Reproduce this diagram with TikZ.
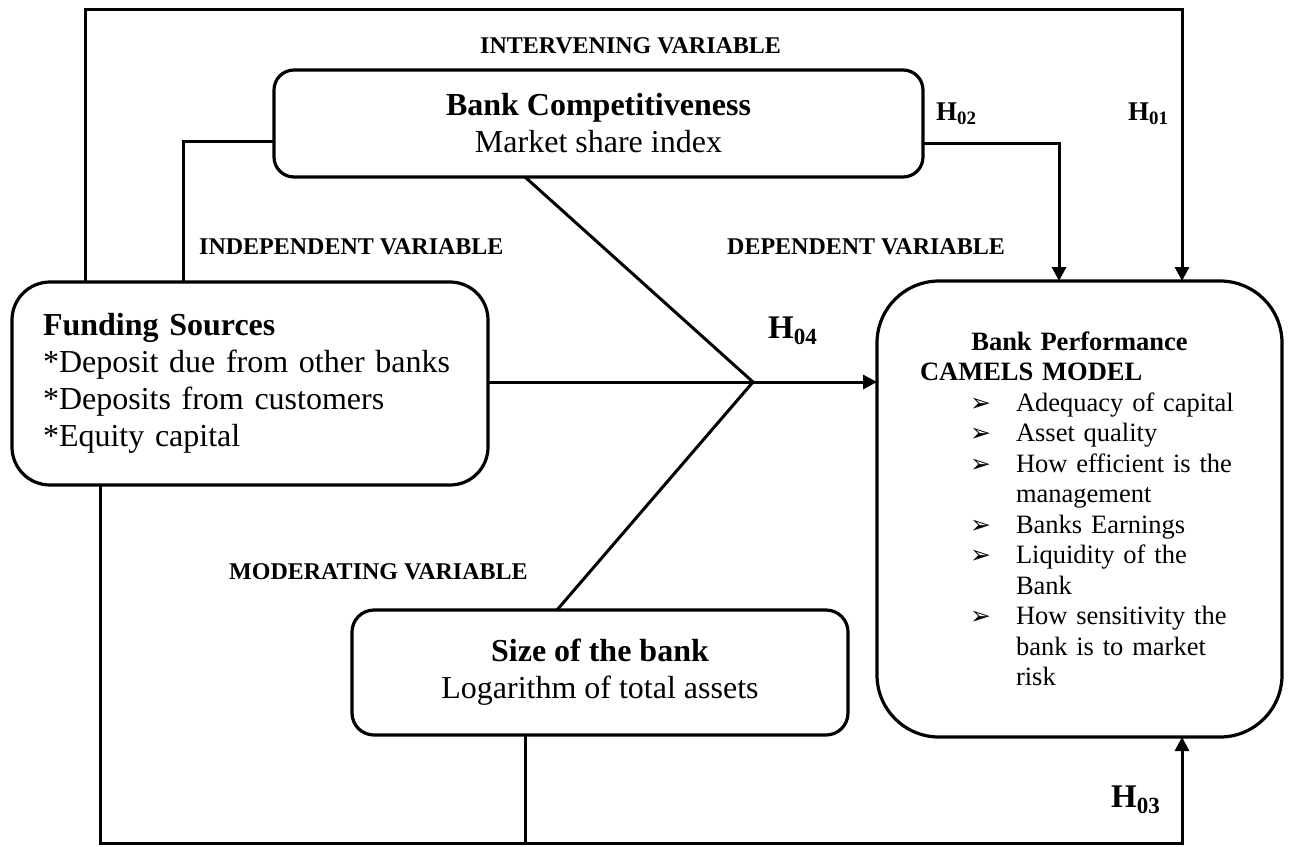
\documentclass[tikz,border=0pt]{standalone}
\usepackage{fontspec}
\setmainfont{Liberation Serif}
\newfontfamily\symfont{DejaVu Sans}
\usetikzlibrary{arrows.meta}
\newcommand{\bul}{\makebox[46pt][l]{\symfont\fontsize{25}{20}\selectfont ➢}}
\begin{document}
\begin{tikzpicture}[x=1pt,y=-1pt,
  box/.style={draw,line width=3.2pt,outer sep=0pt,inner sep=0pt},
  ln/.style={line width=3pt},
  arr/.style={ln,-{Triangle[length=14pt,width=14pt]}},
  lbl/.style={anchor=base west,inner sep=0pt,font=\fontsize{24}{28}\selectfont\bfseries},
  hyp/.style={anchor=base west,inner sep=0pt}]
\useasboundingbox (0,0) rectangle (1289,846);

% boxes
\node[box,rounded corners=20pt,minimum width=649pt,minimum height=107pt,align=center,
      font=\fontsize{32}{37}\selectfont] (comp) at (598.5,123.5)
      {\textbf{Bank Competitiveness}\\Market share index};
\node[box,rounded corners=38pt,minimum width=476pt,minimum height=203pt,text width=414pt,
      inner xsep=31pt,align=left,font=\fontsize{32}{37}\selectfont] (fund) at (250,383.5)
      {\textbf{Funding Sources}\\{*}Deposit due from other banks\\{*}Deposits from customers\\{*}Equity capital};
\node[box,rounded corners=22pt,minimum width=496pt,minimum height=125pt,align=center,
      font=\fontsize{32}{37}\selectfont] (size) at (600,672.5)
      {\textbf{Size of the bank}\\Logarithm of total assets};
\node[box,rounded corners=62pt,minimum width=405pt,minimum height=456pt,text width=385pt,
      inner xsep=10pt,align=left,font=\fontsize{26.5}{30.5}\selectfont] (perf) at (1079.5,509)
      {\makebox[385pt][c]{\textbf{Bank Performance}}\\
       \hspace*{33pt}\textbf{CAMELS MODEL}\\
       \hspace*{83pt}\bul Adequacy of capital\\
       \hspace*{83pt}\bul Asset quality\\
       \hspace*{83pt}\bul How efficient is the\\
       \hspace*{129pt}management\\
       \hspace*{83pt}\bul Banks Earnings\\
       \hspace*{83pt}\bul Liquidity of the\\
       \hspace*{129pt}Bank\\
       \hspace*{83pt}\bul How sensitivity the\\
       \hspace*{129pt}bank is to market\\
       \hspace*{129pt}risk};

% helper coordinates
\coordinate (tl) at (85,9);
\coordinate (tr) at (1182,9);
\coordinate (c1) at (183,141);
\coordinate (c2) at (1059,143);
\coordinate (j) at (753,382);
\coordinate (xa) at (525,0);
\coordinate (xb) at (557,0);
\coordinate (bl) at (100,843);
\coordinate (br) at (1182,843);

% connectors
\draw[arr] (fund.north -| tl) -- (tl) -- (tr) -- (perf.north -| tr);
\draw[ln] (fund.north -| c1) -- (c1) -- (comp.west |- c1);
\draw[arr] (comp.east |- c2) -- (c2) -- (perf.north -| c2);
\draw[ln] (fund.east |- j) -- (j);
\draw[arr] (j) -- (perf.west |- j);
\draw[ln] (comp.south -| xa) -- (j) -- (size.north -| xb);
\draw[arr] (fund.south -| bl) -- (bl) -- (br) -- (perf.south -| br);
\draw[ln] (size.south -| xa) -- (xa |- bl);

% labels
\node[lbl] (lint) at (480,53) {INTERVENING VARIABLE};
\node[lbl] (lind) at (199,254) {INDEPENDENT VARIABLE};
\node[lbl] (ldep) at (727,254) {DEPENDENT VARIABLE};
\node[lbl] (lmod) at (229,579) {MODERATING VARIABLE};
\node[hyp,font=\fontsize{27}{30}\selectfont\bfseries] (h2) at (936,120) {H\textsubscript{02}};
\node[hyp,font=\fontsize{27}{30}\selectfont\bfseries] (h1) at (1128,120) {H\textsubscript{01}};
\node[hyp,font=\fontsize{33}{36}\selectfont\bfseries] (h4) at (768,338) {H\textsubscript{04}};
\node[hyp,font=\fontsize{33}{36}\selectfont\bfseries] (h3) at (1111,807) {H\textsubscript{03}};
\end{tikzpicture}
\end{document}
